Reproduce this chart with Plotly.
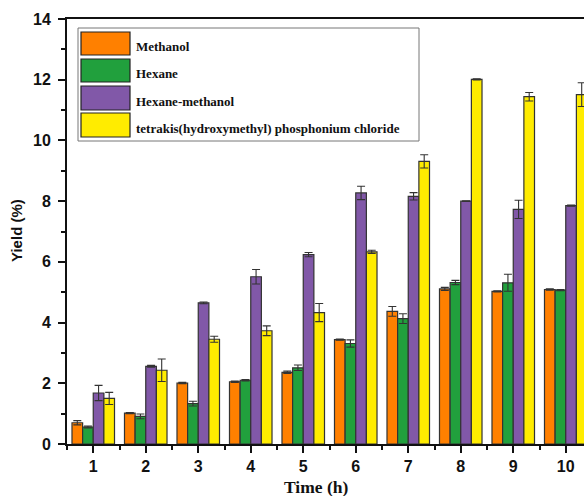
import plotly.graph_objects as go

times = [1, 2, 3, 4, 5, 6, 7, 8, 9, 10]
series_names = ["Methanol", "Hexane", "Hexane-methanol",
                "tetrakis(hydroxymethyl) phosphonium chloride"]
methanol = [0.70, 1.02, 2.01, 2.05, 2.36, 3.44, 4.37, 5.11, 5.03, 5.09]
methanol_err = [0.07, 0.02, 0.02, 0.02, 0.04, 0.02, 0.16, 0.05, 0.02, 0.02]
hexane = [0.56, 0.91, 1.33, 2.10, 2.51, 3.31, 4.13, 5.32, 5.31, 5.07]
hexane_err = [0.03, 0.08, 0.08, 0.02, 0.09, 0.12, 0.16, 0.07, 0.28, 0.02]
hexmeth = [1.68, 2.56, 4.65, 5.51, 6.24, 8.27, 8.16, 8.00, 7.73, 7.85]
hexmeth_err = [0.25, 0.03, 0.03, 0.24, 0.07, 0.22, 0.12, 0.01, 0.30, 0.02]
thpc = [1.50, 2.43, 3.45, 3.73, 4.33, 6.33, 9.31, 12.01, 11.44, 11.51]
thpc_err = [0.20, 0.37, 0.10, 0.16, 0.30, 0.05, 0.22, 0.02, 0.14, 0.39]
colors = ["#FF8000", "#21A03D", "#8158A8", "#FFEC00"]
y_ticks = [0, 2, 4, 6, 8, 10, 12, 14]

values = [methanol, hexane, hexmeth, thpc]
errors = [methanol_err, hexane_err, hexmeth_err, thpc_err]

W, H = 584, 496
ML, MR, MT, MB = 67, 0, 19, 52
PW, PH = W - ML - MR, H - MT - MB


def px(x):
    return (x - ML) / PW


def py(y):
    return (H - MB - y) / PH


fig = go.Figure()
for name, vals, errs, col in zip(series_names, values, errors, colors):
    fig.add_trace(go.Bar(
        x=times, y=vals, name=name,
        marker=dict(color=col, line=dict(color="#333333", width=1.2)),
        error_y=dict(type="data", array=errs, visible=True,
                     color="#333333", thickness=1.1, width=4),
        showlegend=False,
    ))

# custom legend (big swatches like the original)
shapes = [dict(type="rect", xref="paper", yref="paper",
               x0=px(78), x1=px(419), y0=py(141), y1=py(28),
               line=dict(color="#777777", width=1), fillcolor="white",
               layer="below")]
annotations = []
rows = [(32, 55), (59, 82), (86, 110), (113, 137)]
for (t, b), name, col in zip(rows, series_names, colors):
    shapes.append(dict(type="rect", xref="paper", yref="paper",
                       x0=px(81), x1=px(130), y0=py(b), y1=py(t),
                       line=dict(color="#222222", width=1.2), fillcolor=col))
    annotations.append(dict(xref="paper", yref="paper", x=px(134),
                            y=py((t + b) / 2 + 3), text="<b>" + name + "</b>",
                            showarrow=False,
                            xanchor="left", yanchor="middle",
                            font=dict(family="Liberation Serif", size=13,
                                      color="#111111")))
annotations.append(dict(xref="paper", yref="paper", x=px(316), y=py(487),
                        text="<b>Time (h)</b>", showarrow=False,
                        xanchor="center", yanchor="middle",
                        font=dict(family="Liberation Serif", size=17.5,
                                  color="#111111")))
annotations.append(dict(xref="paper", yref="paper", x=px(17), y=py(231),
                        text="<b>Yield (%)</b>", showarrow=False, textangle=-90,
                        xanchor="center", yanchor="middle",
                        font=dict(family="Liberation Sans", size=15,
                                  color="#111111")))

fig.update_layout(
    width=W, height=H,
    margin=dict(l=ML, r=MR, t=MT, b=MB),
    plot_bgcolor="white", paper_bgcolor="white",
    barmode="group", bargap=0.19, bargroupgap=0,
    shapes=shapes, annotations=annotations,
    showlegend=False,
)
fig.update_xaxes(
    range=[0.5, 0.5 + PW / 52.5], tickmode="array", tickvals=times,
    ticktext=[f"<b>{t}</b>" for t in times],
    ticks="outside", ticklen=7, tickwidth=1.5, tickcolor="#111111",
    minor=dict(tickmode="array", tickvals=[t + 0.5 for t in range(0, 11)],
               ticks="outside", ticklen=4, tickwidth=1.5, tickcolor="#111111"),
    showline=True, linewidth=2, linecolor="#111111", mirror=True,
    showgrid=False, zeroline=False,
    tickfont=dict(family="Liberation Sans", size=16, color="#111111"),
)
fig.update_yaxes(
    range=[0, 14], tickmode="array", tickvals=y_ticks,
    ticktext=[f"<b>{v}</b>" for v in y_ticks],
    ticks="outside", ticklen=7, tickwidth=1.5, tickcolor="#111111",
    minor=dict(tickmode="array", tickvals=[1, 3, 5, 7, 9, 11, 13],
               ticks="outside", ticklen=4, tickwidth=1.5, tickcolor="#111111"),
    showline=True, linewidth=2, linecolor="#111111", mirror=False,
    showgrid=False, zeroline=False, ticklabelstandoff=4,
    tickfont=dict(family="Liberation Sans", size=16, color="#111111"),
)

fig.write_html("out.html", config={"displayModeBar": False},
               post_script="document.body.style.margin='0px';"
                           "document.body.style.overflow='hidden';")
